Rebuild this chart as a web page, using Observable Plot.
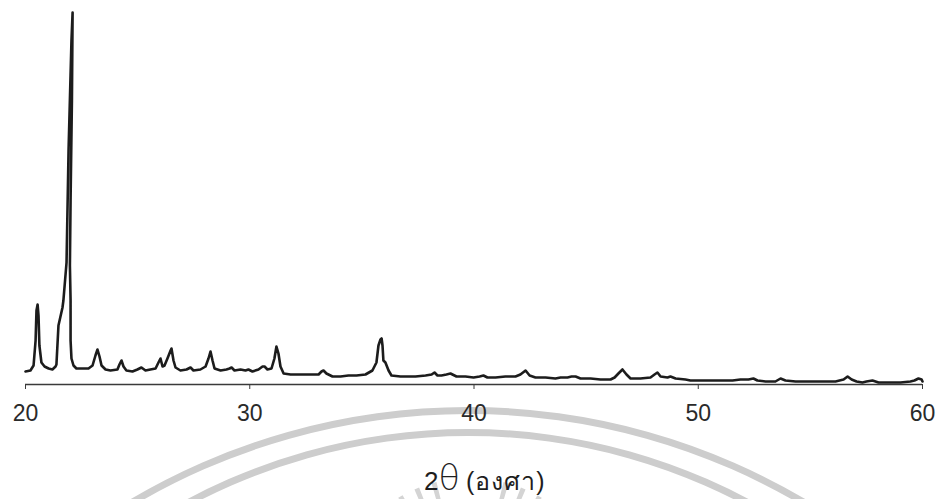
<!DOCTYPE html>
<html>
<head>
<meta charset="utf-8">
<script src="https://cdn.jsdelivr.net/npm/d3@7"></script>
<script src="https://cdn.jsdelivr.net/npm/@observablehq/plot@0.6"></script>
<style>
  html, body { margin: 0; padding: 0; background: #fff; width: 938px; height: 499px; overflow: hidden; }
  #wrap { position: relative; width: 938px; height: 499px; }
  #wm { position: absolute; left: 0; top: 0; }
  #chart { position: absolute; left: 0; top: 0; }
  #xlabel { position: absolute; left: 424px; top: 461px; white-space: nowrap; color: #1e1e1e;
            font-family: "Liberation Sans", Arial, sans-serif; line-height: 1; }
  #xlabel .two { font-size: 26px; }
  #xlabel .theta { font-size: 35px; font-family: "DejaVu Sans", sans-serif; font-weight: 300; }
  #xlabel .unit { font-size: 25px; margin-left: 6px; letter-spacing: 1px; }
</style>
</head>
<body>
<div id="wrap">
  <svg id="wm" width="938" height="499"></svg>
  <div id="chart"></div>
  <div id="xlabel"><span class="two">2</span><span class="theta">θ</span><span class="unit">(องศา)</span></div>
</div>
<script>
// 2θ (degrees)
const twoTheta = [
  20.00,20.22,20.36,20.45,20.49,20.54,20.58,20.62,20.71,20.85,21.03,21.20,21.34,21.38,21.47,21.65,21.69,21.83,21.92,22.05,
  22.10,22.07,22.01,21.98,22.01,22.01,22.05,22.14,22.27,22.54,22.81,22.99,23.12,23.21,23.30,23.39,23.57,23.79,24.10,24.19,
  24.28,24.37,24.50,24.77,24.99,25.17,25.35,25.57,25.80,25.93,26.02,26.11,26.20,26.33,26.47,26.51,26.60,26.69,26.91,27.18,
  27.27,27.36,27.49,27.80,28.03,28.16,28.25,28.34,28.43,28.70,28.96,29.10,29.19,29.32,29.59,29.81,29.94,30.12,30.39,30.57,
  30.66,30.79,30.97,31.10,31.19,31.28,31.37,31.51,31.82,32.26,32.71,33.07,33.20,33.29,33.42,33.69,34.05,34.40,34.76,35.16,
  35.47,35.65,35.74,35.83,35.88,35.92,35.96,36.05,36.19,36.32,36.72,37.39,37.84,38.11,38.24,38.37,38.55,38.77,38.95,39.22,
  39.62,39.98,40.25,40.42,40.60,40.96,41.40,41.85,42.07,42.30,42.48,42.74,43.19,43.63,43.86,44.17,44.35,44.53,44.75,45.20,
  45.64,45.86,46.09,46.27,46.44,46.62,46.80,46.98,47.42,47.87,48.05,48.18,48.32,48.63,48.76,48.99,49.43,49.65,50.10,50.55,
  50.99,51.53,51.88,52.24,52.46,52.64,53.00,53.44,53.67,53.89,54.34,54.78,55.23,55.67,56.12,56.48,56.66,56.84,57.06,57.32,
  57.50,57.77,58.04,58.57,59.02,59.46,59.64,59.82,59.96,60.00
];
// intensity (arbitrary counts)
const intensity = [
  130,140,190,440,740,800,690,390,220,180,160,150,180,200,590,770,840,1220,2340,3440,
  3720,2840,1840,1190,840,440,260,190,160,160,160,190,290,350,280,190,150,140,150,200,
  240,180,140,130,150,170,140,150,160,220,260,180,190,260,340,360,240,170,140,150,
  160,170,140,150,180,260,330,240,160,140,150,160,170,140,150,140,150,130,150,180,
  180,150,160,260,380,310,180,110,100,100,100,100,130,140,110,80,80,90,90,100,
  140,220,390,450,460,390,240,220,140,90,80,80,90,100,120,90,90,100,110,80,
  80,70,80,90,70,70,80,80,100,140,90,70,70,60,70,70,80,80,60,60,
  50,50,50,70,110,150,100,60,60,70,100,120,80,70,80,60,50,40,40,40,
  40,40,50,50,60,40,30,30,60,40,30,30,30,30,30,50,80,50,30,20,
  30,40,20,20,20,30,40,60,50,30
];
const xTicks = [20, 30, 40, 50, 60];

const data = twoTheta.map((t, i) => ({t, v: intensity[i]}));

const chart = Plot.plot({
  width: 938,
  height: 440,
  marginLeft: 25,
  marginRight: 16,
  marginTop: 0,
  marginBottom: 56,
  style: {background: "transparent", fontFamily: "'Liberation Sans', Arial, sans-serif", color: "#2a2a2a"},
  x: {domain: [20, 60]},
  y: {domain: [0, 3840], axis: null},
  marks: [
    Plot.ruleY([0], {stroke: "#3a3a3a", strokeWidth: 1.5}),
    Plot.axisX({ticks: xTicks, tickSize: 5, tickPadding: 15, fontSize: 23, label: null, stroke: "#3a3a3a"}),
    Plot.line(data, {x: "t", y: "v", stroke: "#1c1c1c", strokeWidth: 2.6, curve: "linear"})
  ]
});
document.getElementById("chart").appendChild(chart);

// faint background watermark (scanned seal), decoration only
const wm = d3.select("#wm");
const arc1 = d3.arc().innerRadius(657).outerRadius(664).startAngle(-0.55).endAngle(0.55);
const arc2 = d3.arc().innerRadius(590).outerRadius(597).startAngle(-0.55).endAngle(0.55);
wm.append("path").attr("d", arc1()).attr("transform", "translate(468,1071)").attr("fill", "#cdcdcd");
wm.append("path").attr("d", arc2()).attr("transform", "translate(468,1026)").attr("fill", "#cdcdcd");
const rays = d3.range(-7, 8).filter(k => Math.abs(k) > 1);
rays.forEach(k => {
  const a = k * 0.13;
  const r0 = 118, r1 = 140, cx = 470, cy = 618;
  wm.append("path")
    .attr("d", d3.arc().innerRadius(r0).outerRadius(r1).startAngle(a - 0.018).endAngle(a + 0.018)())
    .attr("transform", `translate(${cx},${cy})`)
    .attr("fill", "#d4d4d4");
});
</script>
</body>
</html>
